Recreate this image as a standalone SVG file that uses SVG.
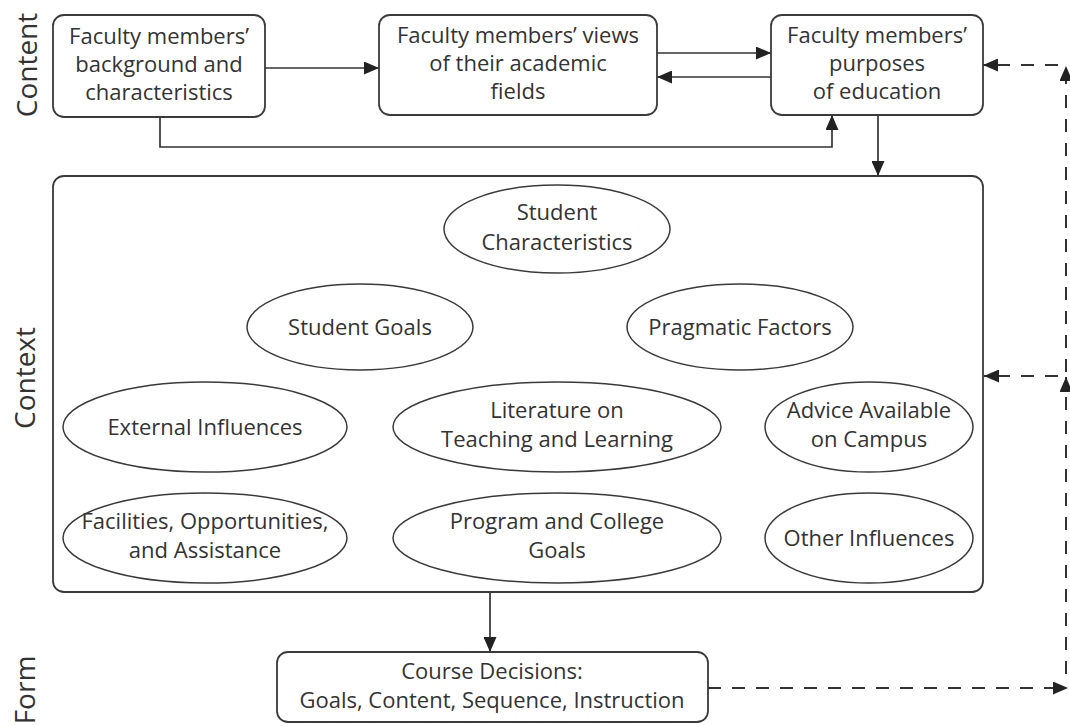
<svg xmlns="http://www.w3.org/2000/svg" width="1070" height="726" viewBox="0 0 1070 726">
<defs>
<style>
.box{fill:#fff;stroke:#3a3a3a;stroke-width:1.8}
.ell{fill:#fff;stroke:#3a3a3a;stroke-width:1.5}
.t{font-family:"Open Sans","Liberation Sans",sans-serif;font-size:22px;fill:#333;text-anchor:middle}
.lab{font-family:"Open Sans","Liberation Sans",sans-serif;font-size:28px;fill:#333;text-anchor:middle}
.c{fill:none;stroke:#333;stroke-width:1.7}
.d{fill:none;stroke:#333;stroke-width:2;stroke-dasharray:13 11}
</style>
<marker id="ah" viewBox="0 0 15 13" refX="15" refY="6.5" markerWidth="15" markerHeight="13" markerUnits="userSpaceOnUse" orient="auto">
<path d="M0,0 L15,6.5 L0,13 Z" fill="#222"/>
</marker>
</defs>
<g id="labels">
<text class="lab" transform="translate(37,65) rotate(-90)">Content</text>
<text class="lab" transform="translate(35,378) rotate(-90)">Context</text>
<text class="lab" transform="translate(35,690) rotate(-90)">Form</text>
</g>
<g id="connectors">
<path class="c" d="M265,68 H379" marker-end="url(#ah)"/>
<path class="c" d="M657,53 H771" marker-end="url(#ah)"/>
<path class="c" d="M771,77 H657" marker-end="url(#ah)"/>
<path class="c" d="M160,117 V147 H832 V115" marker-end="url(#ah)"/>
<path class="c" d="M878,115 V176" marker-end="url(#ah)"/>
<path class="c" d="M490,592 V652" marker-end="url(#ah)"/>
<path class="d" d="M708,688 H1068" marker-end="url(#ah)"/>
<path class="d" d="M1066,674 V377" marker-end="url(#ah)"/>
<path class="d" d="M1066,372 V66" marker-end="url(#ah)"/>
<path class="d" d="M1058,376 H984" marker-end="url(#ah)"/>
<path class="d" d="M1058,65 H983" marker-end="url(#ah)"/>
</g>
<g id="box1">
<rect class="box" x="53" y="15" width="212" height="102" rx="11"/>
<text class="t" x="159" y="44">Faculty members’</text>
<text class="t" x="159" y="72">background and</text>
<text class="t" x="159" y="100">characteristics</text>
</g>
<g id="box2">
<rect class="box" x="379" y="15" width="278" height="100" rx="11"/>
<text class="t" x="518" y="43">Faculty members’ views</text>
<text class="t" x="518" y="71">of their academic</text>
<text class="t" x="518" y="99">fields</text>
</g>
<g id="box3">
<rect class="box" x="771" y="15" width="212" height="100" rx="11"/>
<text class="t" x="877" y="43">Faculty members’</text>
<text class="t" x="877" y="71">purposes</text>
<text class="t" x="877" y="99">of education</text>
</g>
<g id="context">
<rect class="box" x="53" y="176" width="930" height="416" rx="11"/>
</g>
<g id="student-characteristics">
<ellipse class="ell" cx="557" cy="229" rx="113" ry="44"/>
<text class="t" x="557" y="220">Student</text>
<text class="t" x="557" y="250">Characteristics</text>
</g>
<g id="student-goals">
<ellipse class="ell" cx="360" cy="327" rx="113" ry="43"/>
<text class="t" x="360" y="335">Student Goals</text>
</g>
<g id="pragmatic-factors">
<ellipse class="ell" cx="740" cy="327" rx="113" ry="43"/>
<text class="t" x="740" y="335">Pragmatic Factors</text>
</g>
<g id="external-influences">
<ellipse class="ell" cx="205" cy="427" rx="142" ry="45"/>
<text class="t" x="205" y="435">External Influences</text>
</g>
<g id="literature">
<ellipse class="ell" cx="557" cy="427" rx="164" ry="45"/>
<text class="t" x="557" y="418">Literature on</text>
<text class="t" x="557" y="447">Teaching and Learning</text>
</g>
<g id="advice">
<ellipse class="ell" cx="869" cy="427" rx="104" ry="45"/>
<text class="t" x="869" y="418">Advice Available</text>
<text class="t" x="869" y="447">on Campus</text>
</g>
<g id="facilities">
<ellipse class="ell" cx="205" cy="538" rx="142" ry="45"/>
<text class="t" x="205" y="529">Facilities, Opportunities,</text>
<text class="t" x="205" y="558">and Assistance</text>
</g>
<g id="program-goals">
<ellipse class="ell" cx="557" cy="538" rx="164" ry="45"/>
<text class="t" x="557" y="529">Program and College</text>
<text class="t" x="557" y="558">Goals</text>
</g>
<g id="other-influences">
<ellipse class="ell" cx="869" cy="538" rx="104" ry="45"/>
<text class="t" x="869" y="546">Other Influences</text>
</g>
<g id="course-decisions">
<rect class="box" x="277" y="652" width="431" height="70" rx="11"/>
<text class="t" x="492" y="679">Course Decisions:</text>
<text class="t" x="492" y="708">Goals, Content, Sequence, Instruction</text>
</g>
</svg>
